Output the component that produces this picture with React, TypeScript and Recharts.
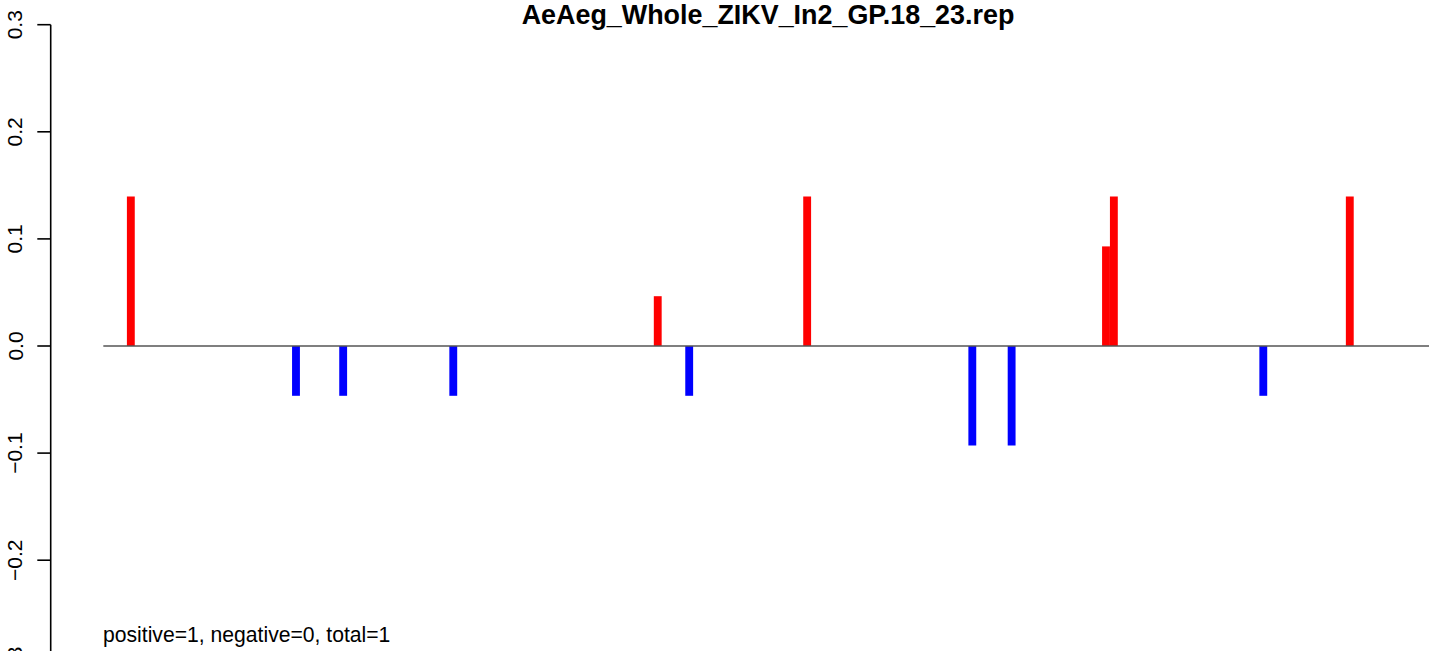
import React from 'react';
import { BarChart, Bar, XAxis, YAxis, Cell, ReferenceLine } from 'recharts';

// bin index along the region and the score of each non-empty bin
const positions = [3, 24, 30, 44, 70, 74, 89, 110, 115, 127, 128, 147, 158];
const scores = [0.1395, -0.0465, -0.0465, -0.0465, 0.0465, -0.0465, 0.1395, -0.093, -0.093, 0.093, 0.1395, -0.0465, 0.1395];
const yTicks = [-0.3, -0.2, -0.1, 0, 0.1, 0.2, 0.3];
const title = 'AeAeg_Whole_ZIKV_In2_GP.18_23.rep';
const summary = 'positive=1, negative=0, total=1';

const FONT = '"Liberation Sans", Arial, Helvetica, sans-serif';
const POS_COLOR = '#FF0000';
const NEG_COLOR = '#0000FF';

const data = positions.map((pos, i) => ({ pos, score: scores[i] }));

const fmt = (v: number) => v.toFixed(1).replace('-', '\u2212');

const YTick = ({ y, payload }: any) => (
  <text
    x={22.5}
    y={y}
    transform={`rotate(-90, 22.5, ${y})`}
    textAnchor="middle"
    fontSize={21}
    fontFamily={FONT}
    fill="#000"
  >
    {fmt(payload.value)}
  </text>
);

const App: React.FC = () => {
  return (
    <div
      style={{
        position: 'absolute',
        top: 0,
        left: 0,
        width: 1429,
        height: 651,
        overflow: 'hidden',
        background: '#fff',
      }}
    >
      <BarChart
        width={1500}
        height={700}
        data={data}
        margin={{ top: 24.7, right: 0, bottom: 32.7, left: 0 }}
      >
        <XAxis type="number" dataKey="pos" domain={[-7.19, 177.1]} hide />
        <YAxis
          type="number"
          width={50.7}
          domain={[-0.3, 0.3]}
          ticks={yTicks}
          interval={0}
          tickSize={13.4}
          tick={<YTick />}
          axisLine={{ stroke: '#000', strokeWidth: 1.6 }}
          tickLine={{ stroke: '#000', strokeWidth: 1.6 }}
        />
        <ReferenceLine
          segment={[
            { x: -0.5, y: 0 },
            { x: 177.1, y: 0 },
          ]}
          stroke="#555"
          strokeWidth={1.6}
        />
        <Bar dataKey="score" barSize={7.864} isAnimationActive={false}>
          {data.map((d, i) => (
            <Cell key={`c-${i}`} fill={d.score > 0 ? POS_COLOR : NEG_COLOR} />
          ))}
        </Bar>
      </BarChart>
      <svg
        width={1429}
        height={651}
        style={{ position: 'absolute', top: 0, left: 0, pointerEvents: 'none' }}
      >
        <text x={768} y={24} textAnchor="middle" fontSize={26.9} fontWeight="bold" fontFamily={FONT} fill="#000">
          {title}
        </text>
        <text x={103} y={642} fontSize={21.15} fontFamily={FONT} fill="#000">
          {summary}
        </text>
      </svg>
    </div>
  );
};

export default App;
